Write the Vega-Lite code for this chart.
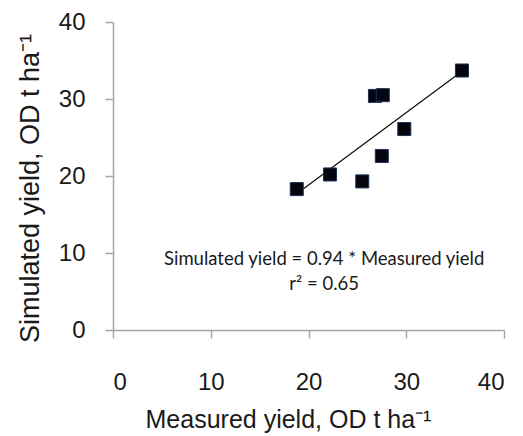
{
  "$schema": "https://vega.github.io/schema/vega-lite/v6.json",
  "width": 391,
  "height": 308,
  "autosize": {"type": "none"},
  "padding": {"left": 113, "top": 22, "right": 19, "bottom": 106},
  "background": "white",
  "config": {
    "view": {"stroke": null},
    "axis": {
      "grid": false,
      "domainColor": "#a6a6a6",
      "domainWidth": 1.5,
      "tickColor": "#a6a6a6",
      "tickWidth": 1.5,
      "tickSize": 8,
      "labelFont": "Liberation Sans",
      "labelFontSize": 24,
      "labelColor": "#1a1a1a",
      "titleFont": "Liberation Sans",
      "titleFontWeight": "normal",
      "titleColor": "#1a1a1a"
    }
  },
  "datasets": {
    "points": [
      {"measured": 18.8, "simulated": 18.3},
      {"measured": 22.2, "simulated": 20.2},
      {"measured": 25.5, "simulated": 19.3},
      {"measured": 26.8, "simulated": 30.4},
      {"measured": 27.6, "simulated": 30.5},
      {"measured": 27.5, "simulated": 22.6},
      {"measured": 29.8, "simulated": 26.1},
      {"measured": 35.7, "simulated": 33.7}
    ],
    "fit": [
      {"measured": 19.0, "simulated": 17.9},
      {"measured": 35.4, "simulated": 33.3}
    ],
    "notes": [
      {"measured": 21.6, "simulated": 8.4, "label": "Simulated yield = 0.94 * Measured yield"},
      {"measured": 21.6, "simulated": 5.2, "label": "r² = 0.65"}
    ]
  },
  "layer": [
    {
      "data": {"name": "fit"},
      "mark": {"type": "line", "color": "#111111", "strokeWidth": 1.3},
      "encoding": {
        "x": {
          "field": "measured", "type": "quantitative",
          "scale": {"domain": [0, 40], "nice": false},
          "axis": {
            "values": [0, 10, 20, 30, 40],
            "labelPadding": 32,
            "title": "Measured yield, OD t ha⁻¹",
            "titleFontSize": 25,
            "titleX": 175,
            "titleY": 97,
            "titleBaseline": "alphabetic"
          }
        },
        "y": {
          "field": "simulated", "type": "quantitative",
          "scale": {"domain": [0, 40], "nice": false},
          "axis": {
            "values": [0, 10, 20, 30, 40],
            "labelPadding": 20,
            "title": "Simulated yield, OD t ha⁻¹",
            "titleFontSize": 27,
            "titleX": -75,
            "titleY": 166,
            "titleBaseline": "alphabetic"
          }
        }
      }
    },
    {
      "data": {"name": "points"},
      "mark": {"type": "point", "shape": "square", "filled": true, "size": 170, "fill": "#050510", "stroke": "#1c3557", "strokeWidth": 1, "opacity": 1},
      "encoding": {
        "x": {"field": "measured", "type": "quantitative"},
        "y": {"field": "simulated", "type": "quantitative"}
      }
    },
    {
      "data": {"name": "notes"},
      "mark": {"type": "text", "font": "Lato", "fontSize": 18.5, "color": "#1a1a1a", "align": "center", "baseline": "alphabetic"},
      "encoding": {
        "x": {"field": "measured", "type": "quantitative"},
        "y": {"field": "simulated", "type": "quantitative"},
        "text": {"field": "label"}
      }
    }
  ]
}
